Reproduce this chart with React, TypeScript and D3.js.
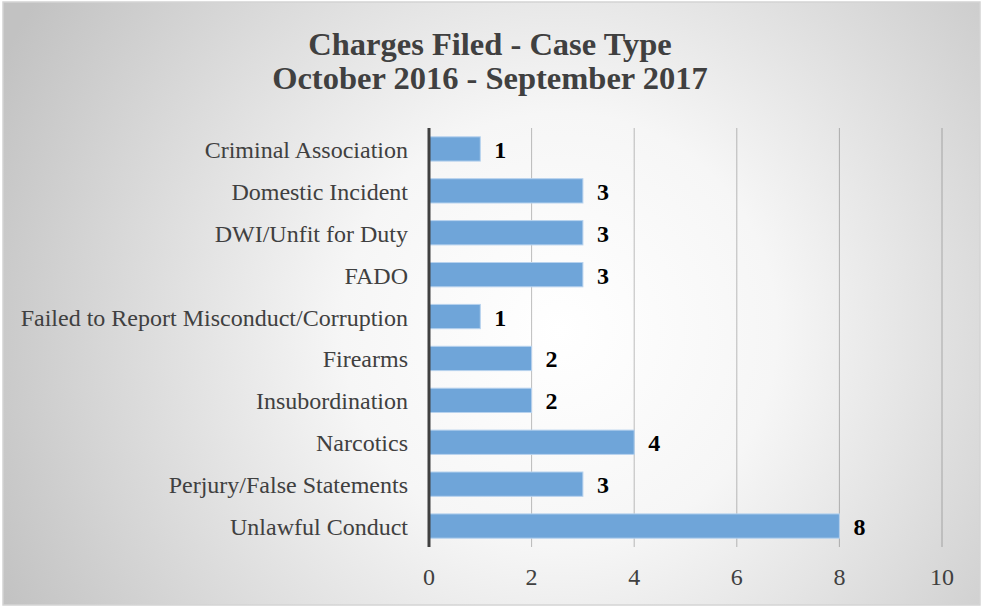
import React from "react";
import * as d3 from "d3";

const categories = [
  "Criminal Association",
  "Domestic Incident",
  "DWI/Unfit for Duty",
  "FADO",
  "Failed to Report Misconduct/Corruption",
  "Firearms",
  "Insubordination",
  "Narcotics",
  "Perjury/False Statements",
  "Unlawful Conduct",
];
const values = [1, 3, 3, 3, 1, 2, 2, 4, 3, 8];
const ticks = [0, 2, 4, 6, 8, 10];
const titleLines = ["Charges Filed - Case Type", "October 2016 - September 2017"];

export default function App() {
  const W = 984, H = 608;
  const x = d3.scaleLinear().domain([0, 10]).range([429, 942]);
  const y = d3.scaleBand().domain(categories).range([128, 547]).paddingInner(0.42).paddingOuter(0.21);
  const font = "'Liberation Serif', 'Times New Roman', serif";
  return (
    <svg width={W} height={H} style={{ position: "absolute", left: 0, top: 0 }} fontFamily={font}>
      <defs>
        <radialGradient id="bg" cx="560" cy="330" r="620" gradientUnits="userSpaceOnUse">
          <stop offset="0" stopColor="#ffffff" />
          <stop offset="0.35" stopColor="#f6f6f6" />
          <stop offset="1" stopColor="#c2c2c2" />
        </radialGradient>
      </defs>
      <rect x={3} y={2} width={977} height={603} fill="url(#bg)" stroke="#d4d4d4" strokeWidth={1.5} />
      {titleLines.map((t, i) => (
        <text key={i} x={490} y={55 + i * 34} textAnchor="middle" fontSize={32.5} fontWeight="bold" fill="#404040">
          {t}
        </text>
      ))}
      {ticks.slice(1).map((t) => (
        <line key={t} x1={x(t)} x2={x(t)} y1={128} y2={547} stroke="rgba(0,0,0,0.25)" strokeWidth={1} />
      ))}
      {categories.map((c, i) => (
        <g key={c}>
          <rect
            x={x(0)}
            y={y(c)!}
            width={x(values[i]) - x(0)}
            height={y.bandwidth()}
            fill="#6fa5d9"
            stroke="#b7d2ee"
            strokeWidth={1}
          />
          <text x={x(values[i]) + 14} y={y(c)! + y.bandwidth() / 2 + 9} fontSize={24} fontWeight="bold" fill="#000">
            {values[i]}
          </text>
          <text x={408} y={y(c)! + y.bandwidth() / 2 + 9} textAnchor="end" fontSize={24} fill="#404040">
            {c}
          </text>
        </g>
      ))}
      <line x1={x(0)} x2={x(0)} y1={128} y2={547} stroke="#404040" strokeWidth={3} />
      {ticks.map((t) => (
        <text key={t} x={x(t)} y={585} textAnchor="middle" fontSize={24} fill="#404040">
          {t}
        </text>
      ))}
    </svg>
  );
}
